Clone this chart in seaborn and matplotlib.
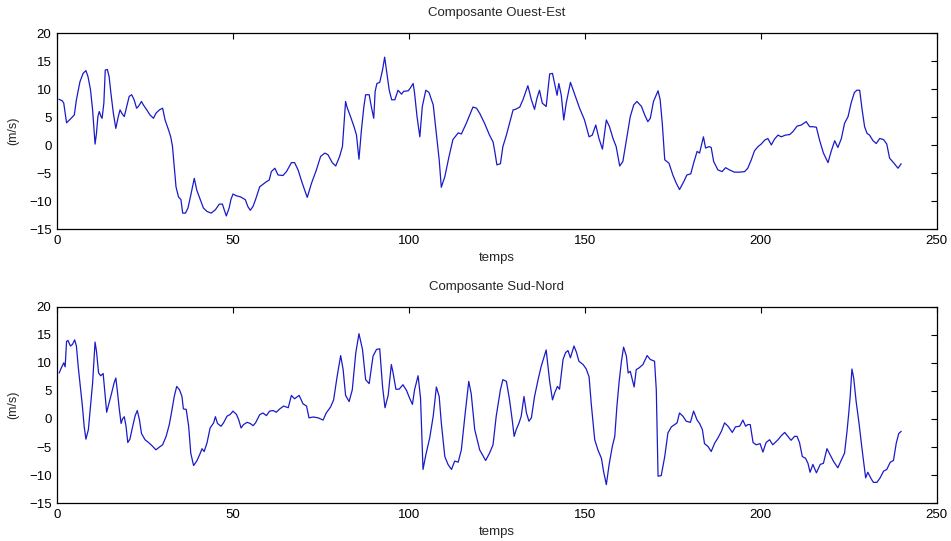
import matplotlib
matplotlib.use("Agg")
import matplotlib.pyplot as plt
import seaborn as sns
import pandas as pd

# Composante Ouest-Est
oe_t = [0.5, 1.5, 1.9, 2.7, 4.0, 4.9, 5.5, 6.5, 7.4, 8.2, 8.8, 9.5, 10.1, 10.6, 10.8, 11.2, 11.6, 12.0,
        12.5, 12.8, 13.3, 13.7, 14.3, 14.8, 15.3, 16.0, 16.7, 17.4, 17.9, 18.4, 19.1, 19.8, 20.5, 21.2,
        21.9, 22.6, 23.1, 24.0, 24.5, 25.5, 26.4, 27.4, 28.1, 29.1, 30.0, 30.7, 31.7, 32.3, 32.8, 33.3,
        33.8, 34.5, 35.2, 35.7, 36.5, 37.2, 38.0, 39.0, 39.7, 40.7, 41.6, 42.6, 43.8, 45.0, 46.1, 47.0,
        47.5, 48.1, 48.9, 49.4, 50.0, 50.9, 52.1, 53.5, 54.2, 54.9, 55.7, 56.4,
        57.6, 59.5, 60.3, 60.9, 61.9, 62.8, 64.2, 65.2, 66.6, 67.5, 68.5, 69.7, 71.1, 72.3, 73.7, 74.9,
        76.1, 77.0, 78.2, 79.2, 80.3, 81.1, 82.0, 82.4, 83.4, 84.4, 85.1, 85.8, 86.5, 87.2, 87.7, 88.7,
        89.3, 90.0, 90.4, 90.9, 91.7, 92.5, 93.1, 93.6, 94.4, 95.1, 96.0, 96.9, 97.9, 98.5, 99.8, 100.4,
        101.2, 101.6, 102.3, 103.1, 103.8, 104.8, 105.7, 106.9, 107.8, 108.6, 109.2, 110.2, 111.4, 112.5,
        114.0, 114.9, 116.3, 118.2, 119.2,
        120.1, 121.5, 122.9, 123.9, 124.4, 125.0, 126.0, 126.7, 127.7, 128.6, 129.6, 130.3, 131.5, 132.4,
        133.8, 134.8, 135.7, 136.4, 137.1, 137.9, 139.0, 140.0, 140.8, 141.4, 142.1, 142.6, 143.3, 144.0,
        144.7, 145.9, 146.8, 148.5, 149.9, 151.2, 152.1, 153.1, 154.0, 155.0, 156.1, 157.0, 158.0, 158.9,
        159.9, 160.8, 161.8, 162.9, 163.9, 164.8, 166.1, 167.0, 167.9, 168.6, 169.5, 170.8, 171.4, 172.0,
        172.7, 173.9, 175.0, 176.0, 176.9, 178.1, 179.0, 180.1, 180.9, 181.9,
        182.6, 183.7, 184.3, 185.3, 185.9, 186.6, 187.8, 189.0, 190.0, 191.1, 192.5, 194.0, 195.4, 196.3,
        197.3, 198.2, 199.2, 200.1, 201.1, 202.0, 203.0, 203.9, 204.9, 205.8, 207.0, 208.2, 209.1, 210.3,
        211.5, 212.9, 213.9, 214.8, 215.8, 216.7, 217.8, 219.1, 220.0, 221.0, 221.9, 222.9, 223.8, 224.8,
        225.7, 226.6, 227.3, 228.1, 228.8, 229.5, 230.2, 230.9, 231.9, 232.8, 233.8, 234.9, 235.8, 236.6,
        237.7, 239.0, 239.9]
oe_v = [8.2, 7.9, 7.5, 4.0, 4.8, 5.4, 8.1, 11.3, 12.8, 13.3, 12.2, 9.9, 6.3, 1.8, 0.2, 2.1, 5.1, 6.0,
        5.1, 4.8, 7.5, 13.4, 13.5, 12.2, 9.3, 5.7, 3.0, 5.1, 6.3, 5.7, 5.1, 6.9, 8.7, 9.0,
        8.1, 6.6, 6.9, 7.8, 7.2, 6.3, 5.4, 4.8, 5.7, 6.3, 6.6, 4.5, 2.7, 1.5, -0.2, -3.8,
        -7.4, -9.2, -9.7, -12.1, -12.1, -11.2, -8.9, -5.9, -8.0, -9.7, -11.2, -11.8, -12.1, -11.5, -10.5, -10.5,
        -11.5, -12.6, -11.2, -9.7, -8.7, -9.0, -9.2, -9.7, -10.9, -11.6, -10.9, -9.7,
        -7.4, -6.5, -6.2, -4.7, -4.1, -5.3, -5.4, -4.7, -3.1, -3.1, -4.4, -6.8, -9.3, -6.8, -4.4, -2.0,
        -1.4, -1.7, -3.1, -3.7, -2.0, -0.25, 7.8, 6.8, 5.1, 3.3, 1.8, -2.5, 2.7, 6.9, 9.0, 9.0,
        6.9, 4.8, 9.6, 11.0, 11.2, 13.4, 15.7, 13.4, 9.8, 8.1, 8.1, 9.8, 9.1, 9.6, 9.7, 10.2,
        11.0, 9.3, 5.1, 1.5, 6.9, 9.8, 9.4, 7.2, 2.1, -2.6, -7.5, -5.6, -2.0, 1.0,
        2.2, 2.0, 3.9, 6.8, 6.6,
        5.7, 3.9, 1.8, 0.6, -1.1, -3.5, -3.3, -0.25, 1.8, 3.9, 6.3, 6.4, 6.8, 8.1,
        10.6, 8.1, 6.4, 8.4, 9.8, 7.5, 6.9, 12.7, 12.8, 11.0, 8.9, 11.0, 8.9, 4.5,
        7.5, 11.2, 9.6, 6.6, 4.5, 1.5, 1.8, 3.6, 1.2, -0.7, 4.5, 3.3, 1.2, -0.25,
        -3.7, -2.9, 0.9, 5.1, 7.2, 7.8, 6.9, 5.4, 4.2, 4.8, 7.8, 9.7, 8.1, 3.9,
        -2.6, -3.2, -5.3, -6.8, -7.9, -6.5, -5.3, -5.1, -3.2, -1.1,
        -1.4, 1.5, -0.5, -0.25, -0.4, -2.9, -4.4, -4.7, -4.0, -4.4, -4.8, -4.8, -4.7, -4.1,
        -2.6, -1.0, -0.25, 0.2, 0.9, 1.2, 0.05, 1.1, 1.8, 1.5, 1.8, 1.9, 2.4, 3.4,
        3.6, 4.2, 3.3, 3.3, 3.2, 0.9, -1.4, -3.1, -1.1, 0.8, -0.4, 1.2, 3.9, 5.1,
        7.6, 9.4, 9.8, 9.8, 6.3, 3.3, 2.1, 1.8, 0.8, 0.3, 1.2, 1.0, 0.2, -2.3,
        -3.1, -4.1, -3.3]

# Composante Sud-Nord
sn_t = [0.6, 1.2, 1.9, 2.3, 2.7, 3.1, 3.8, 4.4, 5.0, 5.5, 6.0, 6.7, 7.2, 7.7, 8.2, 8.9, 9.5, 10.1,
        10.8, 11.2, 11.8, 12.4, 13.1, 13.6, 14.1, 14.8, 15.5, 16.2, 16.7, 17.1, 17.7, 18.2, 18.6, 19.1,
        19.6, 20.1, 20.7, 21.5, 22.2, 22.8, 23.4, 24.0, 25.0, 26.2, 27.2, 28.1, 29.1, 30.0, 31.0, 31.9,
        32.6, 33.3, 34.0, 34.8, 35.5, 35.9, 36.7, 37.4, 38.0, 38.8, 39.7, 40.5, 41.2, 41.8, 42.6, 43.5,
        44.5, 45.0, 45.6, 46.6, 47.3, 48.3, 49.2, 50.0, 51.0, 51.6, 52.3, 53.0, 54.0, 54.9, 55.7, 56.4,
        57.6, 58.5, 59.5, 60.4, 61.4, 62.3, 63.3, 64.4, 65.7, 66.6, 67.5, 68.8, 69.9, 70.9, 71.6, 72.8,
        74.2, 75.6, 76.5, 77.7, 78.6, 79.6, 80.6, 81.3, 82.0, 83.0, 83.9, 84.9, 85.8, 86.8, 87.7, 88.7,
        89.8, 90.8, 91.7, 92.5, 93.2, 94.1, 95.0, 95.5, 96.3, 97.2, 98.3, 99.3, 100.2, 101.0, 101.6, 102.6,
        103.3, 104.0, 104.8, 105.9, 106.9, 107.8, 108.6, 109.2, 110.2, 111.1, 112.1, 113.0, 114.0, 114.9,
        115.9, 117.0, 117.7, 118.7,
        120.1, 121.8, 122.9, 123.9, 124.8, 126.0, 126.7, 127.7, 128.6, 129.4, 129.9, 130.5, 131.3, 131.9,
        132.7, 133.4, 134.1, 134.8, 135.7, 136.7, 137.6, 138.6, 139.0, 140.0, 140.8, 141.4, 142.2, 142.8,
        143.8, 144.5, 145.2, 145.9, 146.9, 147.6, 148.3, 149.5, 150.4, 151.2, 151.8, 152.8, 153.7, 154.7,
        155.3, 156.1, 156.9, 157.8, 158.5, 159.1, 159.7, 160.4, 161.0, 161.8, 162.3, 162.9, 163.5, 164.0,
        164.6, 165.4, 166.5, 167.7, 168.6, 169.8, 170.3, 170.8, 171.7, 172.7, 173.6, 174.6, 175.5, 176.2,
        176.9, 177.9, 178.8, 180.0, 180.9, 181.9,
        182.6, 183.4, 184.0, 185.0, 185.9, 186.9, 187.8, 188.8, 189.7, 190.7, 191.9, 192.8, 194.0, 194.9,
        195.7, 196.3, 197.0, 197.8, 198.7, 199.8, 200.6, 201.5, 202.5, 203.4, 204.9, 205.8, 206.8, 207.7,
        208.6, 209.6, 210.3, 211.0, 211.8, 212.7, 213.4, 214.0, 214.8, 215.8, 216.9, 217.8, 218.8, 219.7,
        220.7, 221.9, 222.9, 223.8, 224.5, 225.0, 225.4, 225.9, 226.4, 227.1, 227.9, 228.8, 229.8, 230.4,
        231.4, 232.0, 233.0, 233.9, 234.9, 235.8, 236.8, 237.7, 238.5, 239.2, 239.9]
sn_v = [8.2, 9.1, 10.0, 9.3, 13.8, 14.0, 13.0, 13.3, 14.1, 13.0, 9.4, 5.2, 2.3, -1.3, -3.6, -1.9, 2.3, 6.4,
        13.7, 12.1, 8.2, 7.7, 8.1, 4.6, 1.2, 2.9, 4.6, 6.4, 7.3, 5.2, 1.7, -0.8, 0.0, 0.4,
        -1.3, -4.2, -3.6, -1.3, 0.6, 1.5, -0.1, -2.6, -3.7, -4.3, -4.9, -5.5, -5.0, -4.6, -3.1, -1.0,
        1.4, 4.0, 5.8, 5.2, 4.0, 1.8, 1.7, -1.3, -6.1, -8.3, -7.5, -6.4, -5.3, -5.8, -4.3, -1.6,
        -0.7, 0.4, -0.8, -1.3, -0.7, 0.5, 0.8, 1.4, 0.8, -0.1, -1.6, -1.0, -0.6, -0.8, -1.2, -0.7,
        0.77, 1.07, 0.6, 1.4, 1.5, 1.2, 1.8, 2.3, 2.0, 4.2, 3.6, 4.2, 2.7, 2.3, 0.2, 0.35,
        0.2, -0.2, 1.07, 2.1, 3.4, 7.6, 11.3, 8.8, 4.2, 3.1, 5.2, 11.8, 15.2, 12.4, 7.0, 6.3,
        11.2, 12.4, 12.5, 5.8, 2.0, 4.2, 9.7, 8.2, 5.3, 5.3, 6.1, 5.1, 3.7, 2.6, 5.2, 7.7,
        3.7, -9.0, -6.4, -3.4, 0.5, 5.7, 4.0, -0.7, -6.7, -8.1, -9.0, -7.5, -7.7, -5.5,
        0.5, 6.7, 4.5, -1.9,
        -5.5, -7.4, -6.1, -4.6, 0.47, 5.2, 7.0, 6.7, 3.4, -0.4, -3.1, -1.9, -0.7, 0.47,
        4.0, 1.07, -0.4, 0.2, 4.0, 7.0, 9.4, 11.5, 12.3, 6.7, 3.4, 4.6, 5.8, 5.3,
        10.6, 11.8, 12.2, 10.9, 13.0, 11.9, 10.3, 9.7, 8.9, 7.5, 2.8, -3.7, -5.5, -7.0,
        -9.3, -11.7, -8.1, -4.9, -3.1, 2.2, 6.4, 10.3, 12.8, 11.2, 8.2, 8.5, 7.0, 5.7,
        8.8, 9.1, 9.7, 11.3, 10.6, 10.3, 5.2, -10.2, -10.1, -6.7, -2.5, -1.4, -1.0, -0.7,
        1.07, 0.47, -0.4, -0.6, 1.4, -0.2,
        -0.8, -1.9, -4.4, -4.9, -5.8, -4.3, -3.4, -2.2, -0.7, -1.3, -2.4, -1.4, -1.3, -0.2,
        -1.3, -1.0, -1.0, -4.2, -4.6, -4.4, -5.9, -4.2, -3.7, -4.6, -3.7, -3.0, -2.4, -3.1,
        -3.8, -3.1, -3.1, -4.2, -6.7, -7.0, -7.9, -9.5, -8.1, -9.6, -8.1, -7.9, -5.3, -6.4,
        -7.6, -8.7, -7.3, -6.1, -2.2, 1.07, 4.0, 8.9, 7.3, 3.1, -0.7, -5.5, -10.5, -9.5,
        -10.7, -11.3, -11.3, -10.5, -9.3, -9.0, -7.7, -7.4, -4.3, -2.6, -2.2]

titles = ["Composante Ouest-Est", "Composante Sud-Nord"]
x_ticks = [0, 50, 100, 150, 200, 250]
y_ticks = [-15, -10, -5, 0, 5, 10, 15, 20]

sns.set_style("white")
plt.rcParams['font.family'] = ['Liberation Sans', 'DejaVu Sans']

fig = plt.figure(figsize=(9.51, 5.41), dpi=100)
ax1 = fig.add_axes([0.060, 0.576, 0.925, 0.363])
ax2 = fig.add_axes([0.060, 0.070, 0.925, 0.363])

series = [(oe_t, oe_v), (sn_t, sn_v)]
for ax, (t, v), title in zip([ax1, ax2], series, titles):
    df = pd.DataFrame({'temps': t, 'vitesse': v})
    sns.lineplot(x='temps', y='vitesse', data=df, ax=ax, color='#1a1ac8',
                 linewidth=0.9, estimator=None, sort=False)
    ax.set_xlim(0, 250)
    ax.set_ylim(-15, 20)
    ax.set_xticks(x_ticks)
    ax.set_yticks(y_ticks)
    ax.tick_params(direction='in', top=True, right=True, length=4.5, width=0.8,
                   labelsize=9.5, pad=4, colors='black')
    for s in ax.spines.values():
        s.set_color('black')
        s.set_linewidth(0.9)
    ax.set_title(title, fontsize=9.5, pad=12)
    ax.set_xlabel('temps', fontsize=9.5, labelpad=4)
    ax.set_ylabel('(m/s)', fontsize=9, labelpad=7)

fig.savefig('out.png', dpi=100, facecolor='white')
